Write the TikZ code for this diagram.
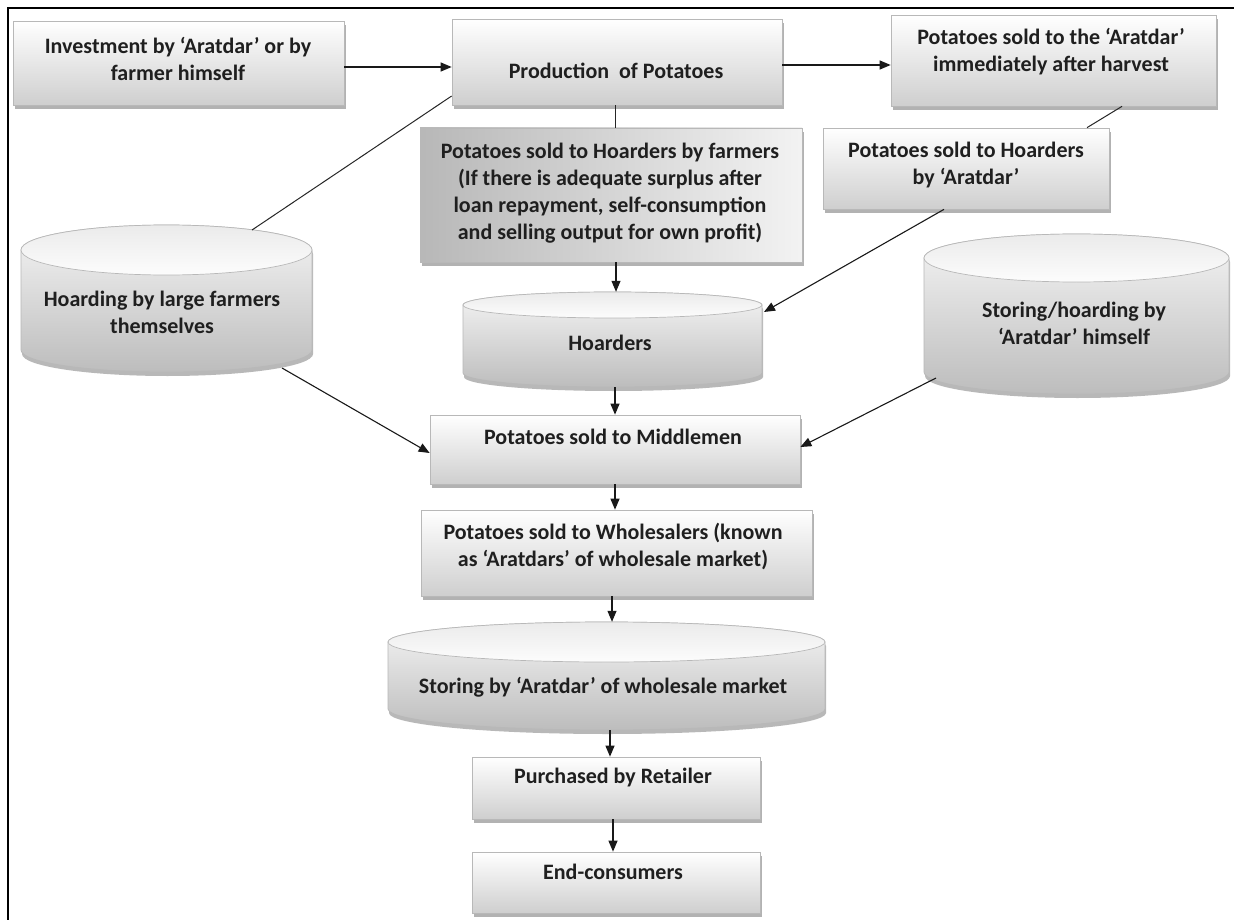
\documentclass[tikz,border=0pt]{standalone}
\usepackage{fontspec}
\setmainfont{Carlito}
\usetikzlibrary{arrows.meta,shadows,calc}
\newcommand\drawcyl[8]{% #1 name, #2 cx, #3 rx, #4 top centre y, #5 top ry, #6 bottom centre y, #7 bottom ry, #8 body style
  \path[cylbody,#8] ({#2-#3},#4) -- ({#2-#3},#6) arc[start angle=180,end angle=360,x radius=#3pt,y radius=#7pt] -- ({#2+#3},#4) arc[start angle=0,end angle=180,x radius=#3pt,y radius=#5pt] -- cycle;
  \path[cyltop] (#2,#4) ellipse[x radius=#3pt,y radius=#5pt];
  \node[cylnode,minimum width={2*#3pt},minimum height={#6+#7-#4+#5}] (#1) at (#2,{(#4-#5+#6+#7)/2}) {};
}
\begin{document}
\begin{tikzpicture}[x=1pt,y=-1pt,
  txt/.style={font=\fontsize{22}{27}\selectfont\bfseries, text=black!88, align=center, inner sep=0pt},
  boxshape/.style={draw=black!28, line width=0.7pt, top color=white, bottom color=black!19,
    drop shadow={shadow xshift=2pt, shadow yshift=-4pt, fill=black!55, opacity=0.55},
    inner sep=0pt, anchor=center},
  darkbox/.style={boxshape, left color=black!28, right color=black!5},
  cylbody/.style={draw=black!28, line width=0.7pt, top color=black!4, bottom color=black!26,
    drop shadow={shadow xshift=1pt, shadow yshift=-4pt, fill=black!55, opacity=0.5}},
  cyltop/.style={draw=black!28, line width=0.7pt, top color=black!8, bottom color=black!1},
  cylnode/.style={inner sep=0pt, draw=none, fill=none},
  arr/.style={draw=black!90, line width=1.1pt, -{Triangle[length=11pt,width=9pt]}},
  ln/.style={draw=black!85, line width=1pt}
]
\useasboundingbox (0,0) rectangle (1234,920);
\fill[white] (0,0) rectangle (1234,920);
\draw[line width=2pt] (8,920) -- (8,8) -- (1234,8);

% rectangular boxes
\node[boxshape, minimum width=331pt, minimum height=84pt] (inv) at (178.5,63) {};
\node[boxshape, minimum width=330pt, minimum height=86pt] (prod) at (617,62) {};
\node[boxshape, minimum width=325pt, minimum height=91pt] (ara) at (1053.5,60.5) {};
\node[darkbox, minimum width=382pt, minimum height=134pt] (sbf) at (611,195) {};
\node[boxshape, minimum width=286pt, minimum height=81pt] (hba) at (966,168.5) {};
\node[boxshape, minimum width=370pt, minimum height=69pt] (mid) at (615,449.5) {};
\node[boxshape, minimum width=391pt, minimum height=86pt] (whs) at (616.5,553) {};
\node[boxshape, minimum width=288pt, minimum height=62pt] (pur) at (616,788) {};
\node[boxshape, minimum width=288pt, minimum height=61pt] (endc) at (616,882.5) {};

% cylinders
\drawcyl{hdl}{166.5}{145.5}{250}{25}{350}{22}{}
\drawcyl{hds}{612.5}{149.5}{305}{13}{373}{14}{}
\drawcyl{stc}{1076.5}{152.5}{258}{24}{372}{22}{}
\drawcyl{whc}{606.5}{218.5}{642}{20}{709}{21}{}

% texts
\node[txt] (invT) at (178,58.5) {Investment by ‘Aratdar’ or by\\farmer himself};
\node[txt] (prodT) at (616,71) {Production~ of Potatoes};
\node[txt] (araT) at (1051,51.5) {Potatoes sold to the ‘Aratdar’\\immediately after harvest};
\node[txt] (sbfT) at (610,193) {Potatoes sold to Hoarders by farmers\\(If there is adequate surplus after\\loan repayment, self-consumption\\and selling output for own profit)};
\node[txt] (hbaT) at (966,165) {Potatoes sold to Hoarders\\by ‘Aratdar’};
\node[txt] (hdlT) at (162,312.5) {Hoarding by large farmers\\themselves};
\node[txt] (hdsT) at (610,343) {Hoarders};
\node[txt] (stcT) at (1074,323.5) {Storing/hoarding by\\‘Aratdar’ himself};
\node[txt] (midT) at (613,437) {Potatoes sold to Middlemen};
\node[txt] (whsT) at (613,546.5) {Potatoes sold to Wholesalers (known\\as ‘Aratdars’ of wholesale market)};
\node[txt] (whcT) at (603,687) {Storing by ‘Aratdar’ of wholesale market};
\node[txt] (purT) at (613,778) {Purchased by Retailer};
\node[txt] (endT) at (613,872) {End-consumers};

% connector end points on the cylinders
\coordinate (hdlTop) at (252,230);
\coordinate (hdlBot) at (282,368);
\coordinate (hdsRight) at (764,312);
\coordinate (stcBot) at (936,378);

% connectors
\draw[arr] (inv.east |- 0,67) -- (prod.west |- 0,67);
\draw[arr] (prod.east |- 0,65) -- (ara.west |- 0,65);
\draw[ln] (prod.south -| 615,0) -- (sbf.north -| 615,0);
\draw[arr] (sbf.south -| 616,0) -- (hds.north -| 616,0);
\draw[ln] (prod.west |- 0,96) -- (hdlTop);
\draw[ln] (ara.south -| 1122,0) -- (hba.north -| 1087,0);
\draw[arr] (hba.south -| 944,0) -- (hdsRight);
\draw[arr] (hdlBot) -- (mid.west |- 0,453);
\draw[arr] (stcBot) -- (mid.east |- 0,447);
\draw[arr] (hds.south -| 615,0) -- (mid.north -| 615,0);
\draw[arr] (mid.south -| 615,0) -- (whs.north -| 615,0);
\draw[arr] (whs.south -| 612,0) -- (whc.north -| 612,0);
\draw[arr] (whc.south -| 610,0) -- (pur.north -| 610,0);
\draw[arr] (pur.south -| 613,0) -- (endc.north -| 613,0);
\end{tikzpicture}
\end{document}
